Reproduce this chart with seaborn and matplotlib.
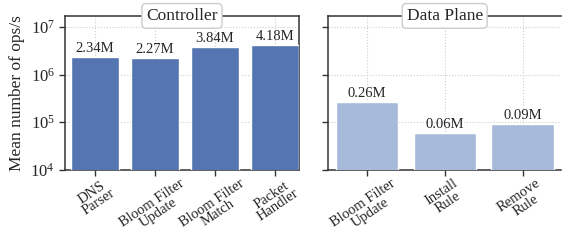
import matplotlib
matplotlib.use("Agg")
import matplotlib.pyplot as plt
import seaborn as sns
import pandas as pd

# data
ctrl_ops = ["DNS\nParser", "Bloom Filter\nUpdate", "Bloom Filter\nMatch", "Packet\nHandler"]
ctrl_vals = [2.34e6, 2.27e6, 3.84e6, 4.18e6]
dp_ops = ["Bloom Filter\nUpdate", "Install\nRule", "Remove\nRule"]
dp_vals = [0.26e6, 0.06e6, 0.09e6]

sns.set_theme(style="ticks")
plt.rcParams['font.family'] = ['Liberation Serif', 'DejaVu Serif']
plt.rcParams['mathtext.fontset'] = 'stix'

fig, axes = plt.subplots(1, 2, figsize=(5.62, 2.41), dpi=100, sharey=True)
fig.subplots_adjust(left=0.116, right=0.999, top=0.934, bottom=0.295, wspace=0.125)

panels = [
    (axes[0], ctrl_ops, ctrl_vals, "Controller", "#5574b2", (-0.5, 3.4)),
    (axes[1], dp_ops, dp_vals, "Data Plane", "#a8bad9", (-0.5, 2.5)),
]

for ax, ops, vals, title, col, xl in panels:
    df = pd.DataFrame({"op": ops, "val": vals})
    sns.barplot(data=df, x="op", y="val", color=col, saturation=1, width=0.8, ax=ax, zorder=3)
    ax.set_yscale("log")
    ax.set_ylim(1e4, 1.7e7)
    ax.set_xlim(*xl)
    ax.grid(True, linestyle=":", color="#cccccc", linewidth=0.8, zorder=0)
    ax.set_axisbelow(True)
    for c in ax.containers:
        ax.bar_label(c, labels=[f"{v/1e6:.2f}M" for v in vals], fontsize=10.5, padding=1.5)
    ax.set_xlabel("")
    ax.set_ylabel("")
    ax.tick_params(axis="x", labelsize=10.5, rotation=34, length=4, width=1, color="#333333", pad=1)
    ax.tick_params(axis="y", labelsize=12, length=4, width=1, color="#333333", which="major")
    ax.tick_params(axis="y", which="minor", length=0)
    for lab in ax.get_xticklabels():
        lab.set_multialignment("center")
        lab.set_linespacing(0.9)
    for s in ax.spines.values():
        s.set_color("#333333")
        s.set_linewidth(1.1)
    ax.text(0.5, 1.0, title, transform=ax.transAxes, ha="center", va="center", fontsize=12.5,
            bbox=dict(boxstyle="round,pad=0.25", fc="white", ec="#cccccc", lw=1.0), zorder=5)

axes[0].set_ylabel("Mean number of ops/s", fontsize=12.5)
axes[1].spines["right"].set_visible(False)

fig.savefig("out.png", dpi=100)
